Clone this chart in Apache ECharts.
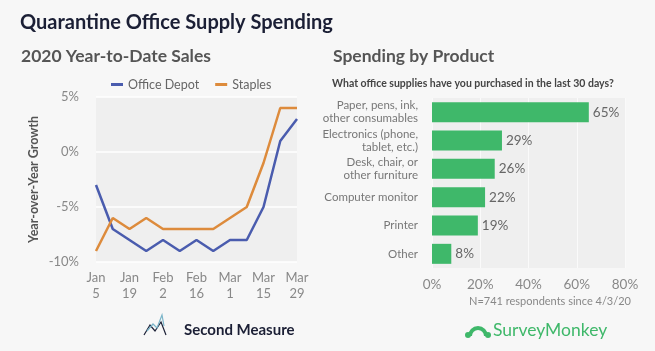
<!DOCTYPE html>
<html>
<head>
<meta charset="utf-8">
<script src="https://cdn.jsdelivr.net/npm/echarts@6/dist/echarts.min.js"></script>
<style>
html,body{margin:0;padding:0;background:#f7f7f7;}
#c{width:655px;height:351px;}
</style>
</head>
<body>
<div id="c"></div>
<script>
const weeks = ['Jan\n5','Jan\n12','Jan\n19','Jan\n26','Feb\n2','Feb\n9','Feb\n16','Feb\n23','Mar\n1','Mar\n8','Mar\n15','Mar\n22','Mar\n29'];
const officeDepot = [-3,-7,-8,-9,-8,-9,-8,-9,-8,-8,-5,1,3];
const staples = [-9,-6,-7,-6,-7,-7,-7,-7,-6,-5,-1,4,4];
const products = ['Paper, pens, ink,\nother consumables','Electronics (phone,\ntablet, etc.)','Desk, chair, or\nother furniture','Computer monitor','Printer','Other'];
const shares = [65,29,26,22,19,8];
const yTicks = [-10,-5,0,5];
const xTicks = [0,20,40,60,80];

const FONT = 'Lato';
const chart = echarts.init(document.getElementById('c'));
chart.setOption({
  backgroundColor:'#f7f7f7',
  textStyle:{fontFamily:FONT},
  animation:false,
  title:[
    {text:'Quarantine Office Supply Spending',left:15,top:8,textStyle:{fontFamily:FONT,fontSize:20,fontWeight:'bold',color:'#1b1f35'}},
    {text:'2020 Year-to-Date Sales',left:16,top:42,textStyle:{fontFamily:FONT,fontSize:17.5,fontWeight:'bold',color:'#555'}},
    {text:'Spending by Product',left:328,top:42,textStyle:{fontFamily:FONT,fontSize:17.5,fontWeight:'bold',color:'#555'}},
    {text:'What office supplies have you purchased in the last 30 days?',left:327,top:73,textStyle:{fontFamily:FONT,fontSize:10.5,fontWeight:'bold',color:'#444'}}
  ],
  legend:{
    left:106,top:73,icon:'rect',itemWidth:12,itemHeight:3,itemGap:16,
    textStyle:{fontFamily:FONT,fontSize:12.5,color:'#666'},
    data:['Office Depot','Staples']
  },
  grid:[
    {left:96,right:358,top:97,bottom:89,show:true,backgroundColor:'#efefef',borderWidth:0},
    {left:432,right:30,top:98,bottom:83,show:true,backgroundColor:'#efefef',borderWidth:0}
  ],
  xAxis:[
    {gridIndex:0,type:'category',data:weeks,boundaryGap:false,
     axisLine:{show:false},axisTick:{show:false},
     axisLabel:{interval:1,color:'#888',fontSize:13,lineHeight:16,margin:8}},
    {gridIndex:1,type:'value',min:xTicks[0],max:xTicks[xTicks.length-1],interval:20,
     axisLine:{show:false},axisTick:{show:false},
     splitLine:{lineStyle:{color:'#fafafa',width:1}},
     axisLabel:{formatter:'{value}%',color:'#888',fontSize:13.5,margin:10}}
  ],
  yAxis:[
    {gridIndex:0,type:'value',min:yTicks[0],max:yTicks[yTicks.length-1],interval:5,
     axisLine:{show:false},axisTick:{show:false},
     splitLine:{lineStyle:{color:'#ffffff',width:1.5}},
     axisLabel:{formatter:'{value}%',color:'#888',fontSize:13,margin:17},
     name:'Year-over-Year Growth',nameLocation:'middle',nameGap:56,
     nameTextStyle:{fontFamily:FONT,fontSize:12.5,fontWeight:'bold',color:'#555'}},
    {gridIndex:1,type:'category',data:products,inverse:true,
     axisLine:{show:false},axisTick:{show:false},
     axisLabel:{color:'#777',fontSize:11.5,lineHeight:13,margin:14,align:'right'}}
  ],
  series:[
    {name:'Office Depot',type:'line',xAxisIndex:0,yAxisIndex:0,data:officeDepot,
     showSymbol:false,lineStyle:{color:'#4a5cae',width:2.5},itemStyle:{color:'#4a5cae'}},
    {name:'Staples',type:'line',xAxisIndex:0,yAxisIndex:0,data:staples,
     showSymbol:false,lineStyle:{color:'#dd8b3c',width:2.5},itemStyle:{color:'#dd8b3c'}},
    {name:'share',type:'bar',xAxisIndex:1,yAxisIndex:1,data:shares,barWidth:20,
     itemStyle:{color:'#3fb86a'},
     label:{show:true,position:'right',formatter:'{c}%',color:'#666',fontSize:13.5,distance:4}}
  ],
  graphic:[
    {type:'text',x:550,y:301,style:{text:'N=741 respondents since 4/3/20',fill:'#888',font:'11px '+FONT,textAlign:'center',textVerticalAlign:'middle'}},
    {type:'polyline',shape:{points:[[144,335],[150,325],[155,331],[161,322],[166,335]]},style:{stroke:'#1b1f35',lineWidth:1.2,fill:null}},
    {type:'polyline',shape:{points:[[147,331],[153,324],[157,328],[162,315],[164,326]]},style:{stroke:'#7bb5c9',lineWidth:1.2,fill:null}},
    {type:'text',x:184,y:330,style:{text:'Second Measure',fill:'#1b1f35',font:'bold 15px '+FONT,textVerticalAlign:'middle'}},
    {type:'sector',shape:{cx:478,cy:336,r:10,r0:6,startAngle:Math.PI,endAngle:Math.PI*2},style:{fill:'#3fb86a'}},
    {type:'circle',shape:{cx:468,cy:335,r:3},style:{fill:'#3fb86a'}},
    {type:'circle',shape:{cx:488,cy:335,r:3},style:{fill:'#3fb86a'}},
    {type:'text',x:493,y:330,style:{text:'SurveyMonkey',fill:'#3fb86a',font:'17.5px '+FONT,textVerticalAlign:'middle'}}
  ]
});
</script>
</body>
</html>
